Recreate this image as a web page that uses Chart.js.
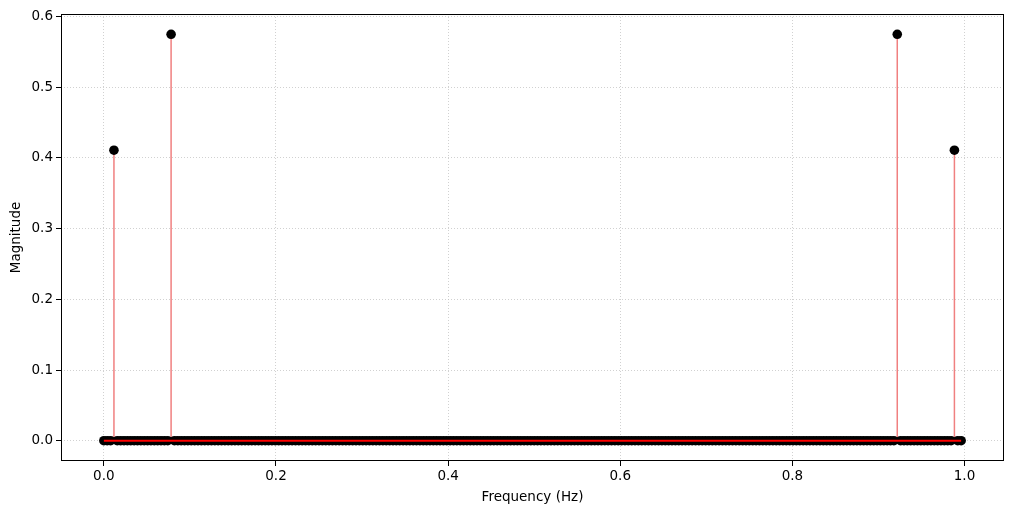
<!DOCTYPE html>
<html>
<head>
<meta charset="utf-8">
<script src="https://cdn.jsdelivr.net/npm/chart.js@4/dist/chart.umd.min.js"></script>
<style>
  body { margin: 0; background: #fff; }
  canvas { display: block; }
</style>
</head>
<body>
<canvas id="myChart" width="1014" height="514"></canvas>
<script>
// bins de frequencia (k / N), N = 256
const sampleCount = 256;
const frequencies = Array.from({ length: sampleCount }, (_, k) => k / sampleCount);
// picos
const peakBins = [3, 20, 236, 253];
const peakMagnitudes = [0.411, 0.575, 0.575, 0.411];
const xTicks = [0.0, 0.2, 0.4, 0.6, 0.8, 1.0];
const yTicks = [0.0, 0.1, 0.2, 0.3, 0.4, 0.5, 0.6];

// magnitude de cada bin: zero fora dos picos
const magnitudes = frequencies.map(() => 0);
peakBins.forEach((k, i) => { magnitudes[k] = peakMagnitudes[i]; });

const markerPoints = frequencies.map((f, i) => ({ x: f, y: magnitudes[i] }));
const stemPoints = [];
frequencies.forEach((f, i) => {
  stemPoints.push({ x: f, y: 0 }, { x: f, y: magnitudes[i] }, { x: f, y: null });
});
const baselinePoints = [
  { x: frequencies[0], y: 0 },
  { x: frequencies[frequencies.length - 1], y: 0 },
];

const fontBase = { family: "DejaVu Sans", size: 13.5 };

// moldura preta em volta da area do grafico
const frame = {
  id: "frame",
  afterDraw(chart) {
    const a = chart.chartArea;
    const ctx = chart.ctx;
    ctx.save();
    ctx.strokeStyle = "#000";
    ctx.lineWidth = 1;
    ctx.strokeRect(Math.round(a.left) + 0.5, Math.round(a.top) + 0.5,
      Math.round(a.right - a.left) - 1, Math.round(a.bottom - a.top) - 1);
    ctx.restore();
  },
};

const xMin = -0.0498, xMax = 1.0459;
const yMax = Math.max(...magnitudes) * 1.05, yMin = -Math.max(...magnitudes) * 0.05;

new Chart(document.getElementById("myChart"), {
  type: "scatter",
  data: {
    datasets: [
      {
        label: "baseline",
        data: baselinePoints,
        showLine: true,
        borderColor: "#ff0000",
        borderWidth: 2,
        pointRadius: 0,
        order: 0,
      },
      {
        label: "markers",
        data: markerPoints,
        backgroundColor: "#000",
        borderColor: "#000",
        pointRadius: 4.8,
        borderWidth: 0,
        order: 1,
      },
      {
        label: "stems",
        data: stemPoints,
        showLine: true,
        spanGaps: false,
        borderColor: "#f08080",
        borderWidth: 1.5,
        pointRadius: 0,
        order: 2,
      },
    ],
  },
  options: {
    responsive: false,
    animation: false,
    layout: { padding: { left: 0, right: 10, top: 14, bottom: 0 } },
    plugins: { legend: { display: false }, tooltip: { enabled: false } },
    scales: {
      x: {
        type: "linear",
        min: xMin,
        max: xMax,
        afterBuildTicks: (s) => { s.ticks = xTicks.map((v) => ({ value: v })); },
        afterFit: (s) => { s.height = 53; },
        ticks: {
          color: "#000",
          font: fontBase,
          padding: 2,
          maxRotation: 0,
          callback: (v) => v.toFixed(1),
        },
        grid: {
          color: "#bdbdbd",
          lineWidth: 0.7,
          tickColor: "#000",
          tickLength: 5,
          tickWidth: 1,
          tickBorderDash: [],
        },
        border: { display: false, dash: [1, 2] },
        title: {
          display: true,
          text: "Frequency (Hz)",
          color: "#000",
          font: fontBase,
          padding: { top: 2, bottom: 8 },
        },
      },
      y: {
        type: "linear",
        min: yMin,
        max: yMax,
        afterBuildTicks: (s) => { s.ticks = yTicks.map((v) => ({ value: v })); },
        afterFit: (s) => { s.width = 61; },
        ticks: {
          color: "#000",
          font: fontBase,
          padding: 3,
          callback: (v) => v.toFixed(1),
        },
        grid: {
          color: "#bdbdbd",
          lineWidth: 0.7,
          tickColor: "#000",
          tickLength: 5,
          tickWidth: 1,
          tickBorderDash: [],
        },
        border: { display: false, dash: [1, 2] },
        title: {
          display: true,
          text: "Magnitude",
          color: "#000",
          font: fontBase,
          padding: { top: 8, bottom: 0 },
        },
      },
    },
  },
  plugins: [frame],
});
</script>
</body>
</html>
